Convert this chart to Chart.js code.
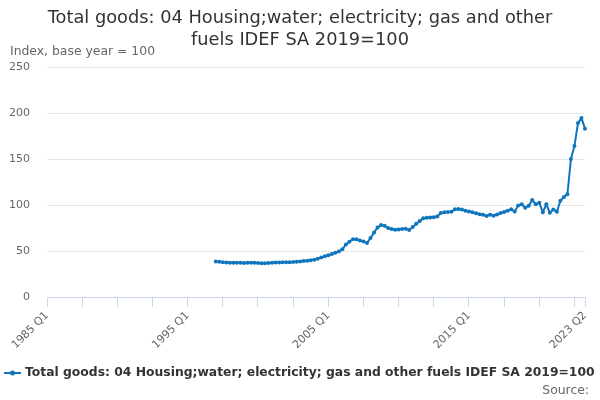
<!DOCTYPE html>
<html>
<head>
<meta charset="utf-8">
<script src="https://cdn.jsdelivr.net/npm/chart.js@4"></script>
<style>
html,body{margin:0;padding:0;background:#fff;}
#wrap{width:600px;height:400px;position:relative;}
</style>
</head>
<body>
<div id="wrap"><canvas id="c" width="600" height="400"></canvas></div>
<script>
// Quarter categories 1985 Q1 .. 2023 Q2
const firstYear = 1985;
const lastYear = 2023, lastQuarter = 2;
const categories = [];
for (let y = firstYear; y <= lastYear; y++) {
  for (let q = 1; q <= 4; q++) {
    if (y === lastYear && q > lastQuarter) break;
    categories.push(y + ' Q' + q);
  }
}
// Series starts at 1997 Q1
const seriesStart = '1997 Q1';
const seriesValues = [
  38.6, 38.3, 37.8, 37.4, 37.2, 37.1, 37.1, 37.1,   // 1997-1998
  37.0, 37.1, 37.2, 37.1, 36.9, 36.6, 36.7, 37.0,   // 1999-2000
  37.2, 37.4, 37.5, 37.7, 37.8, 37.9, 38.0, 38.3,   // 2001-2002
  38.6, 39.0, 39.4, 39.9, 40.6, 41.5, 42.8, 44.2,   // 2003-2004
  45.3, 46.7, 48.0, 49.5, 51.8, 57.2, 60.1, 62.7,   // 2005-2006
  62.7, 61.5, 60.2, 58.8, 64.0, 70.0, 75.5, 78.3,   // 2007-2008
  77.4, 75.0, 73.8, 73.0, 73.5, 73.8, 74.1, 72.8,   // 2009-2010
  76.2, 79.5, 82.5, 85.5, 86.2, 86.4, 86.6, 87.5,   // 2011-2012
  91.2, 92.0, 92.3, 92.6, 95.3, 95.7, 95.0, 93.8,   // 2013-2014
  93.0, 92.2, 91.0, 90.0, 89.5, 88.0, 89.3, 88.4,   // 2015-2016
  89.8, 91.2, 92.5, 93.8, 95.3, 92.8, 99.5, 100.8,  // 2017-2018
  97.1, 99.2, 105.4, 100.8, 102.5, 92.0, 100.8, 91.6, // 2019-2020
  95.0, 92.7, 104.7, 108.6, 111.6, 150.0, 164.0, 189.0, // 2021-2022
  194.5, 183.0                                      // 2023
];
const yTicks = [0, 50, 100, 150, 200, 250];
const xTickEvery = 10;
const xLabelled = ['1985 Q1', '1995 Q1', '2005 Q1', '2015 Q1', '2023 Q2'];

const titleLines = ['Total goods: 04 Housing;water; electricity; gas and other', 'fuels IDEF SA 2019=100'];
const seriesName = 'Total goods: 04 Housing;water; electricity; gas and other fuels IDEF SA 2019=100';
const yAxisTitle = 'Index, base year = 100';
const sourceText = 'Source:';

const startIdx = categories.indexOf(seriesStart);
const data = categories.map((c, i) => (i >= startIdx && i - startIdx < seriesValues.length) ? seriesValues[i - startIdx] : null);

const FONT = "'DejaVu Sans', sans-serif";
const BLUE = '#0f76be';

const extras = {
  id: 'extras',
  afterDraw(chart) {
    const ctx = chart.ctx;
    ctx.save();
    // axis title
    ctx.font = '12.4px ' + FONT;
    ctx.fillStyle = '#666666';
    ctx.textAlign = 'left';
    ctx.textBaseline = 'middle';
    ctx.fillText(yAxisTitle, 10, 52);
    // legend
    const ly = 373;
    ctx.strokeStyle = BLUE;
    ctx.lineWidth = 2;
    ctx.beginPath();
    ctx.moveTo(4, ly); ctx.lineTo(21, ly); ctx.stroke();
    ctx.fillStyle = BLUE;
    ctx.beginPath(); ctx.arc(12.5, ly, 2.5, 0, Math.PI * 2); ctx.fill();
    ctx.font = 'bold 12.35px ' + FONT;
    ctx.fillStyle = '#333333';
    ctx.fillText(seriesName, 25, ly);
    // source
    ctx.font = '12.4px ' + FONT;
    ctx.fillStyle = '#666666';
    ctx.textAlign = 'right';
    ctx.fillText(sourceText, 589, 391);
    ctx.restore();
  }
};

new Chart(document.getElementById('c'), {
  type: 'line',
  data: {
    labels: categories,
    datasets: [{
      label: seriesName,
      data: data,
      borderColor: BLUE,
      backgroundColor: BLUE,
      borderWidth: 2,
      pointRadius: 2,
      pointHoverRadius: 3,
      pointBorderWidth: 0,
      tension: 0,
      spanGaps: false
    }]
  },
  options: {
    responsive: false,
    animation: false,
    devicePixelRatio: 1,
    layout: { padding: { left: 0, right: 0, top: 0, bottom: 50 } },
    plugins: {
      legend: { display: false },
      tooltip: { enabled: false },
      title: {
        display: true,
        text: titleLines,
        color: '#333333',
        font: { family: FONT, size: 17.8, weight: 'normal', lineHeight: '22px' },
        padding: { top: 7, bottom: 16 }
      }
    },
    scales: {
      x: {
        type: 'category',
        offset: false,
        afterBuildTicks(scale) {
          const t = [];
          for (let i = 0; i < categories.length; i += xTickEvery) t.push({ value: i });
          t.push({ value: categories.length - 1 });
          scale.ticks = t;
        },
        afterFit(scale) { scale.height = 53; },
        ticks: {
          autoSkip: false,
          minRotation: 45,
          maxRotation: 45,
          padding: 2,
          color: '#666666',
          font: { family: FONT, size: 11 },
          callback(value) {
            const lab = categories[value];
            return xLabelled.includes(lab) ? lab : '';
          }
        },
        grid: {
          drawOnChartArea: false,
          drawTicks: true,
          tickLength: 10,
          color: '#ccd6eb',
          lineWidth: 1
        },
        border: { display: true, color: '#ccd6eb', width: 1 }
      },
      y: {
        min: 0,
        max: 250,
        afterBuildTicks(scale) { scale.ticks = yTicks.map(v => ({ value: v })); },
        afterFit(scale) { scale.width = 47; },
        ticks: {
          padding: 17,
          color: '#666666',
          font: { family: FONT, size: 11 }
        },
        grid: { color: '#e6e6e6', drawTicks: false, lineWidth: 1 },
        border: { display: false }
      },
      yRight: {
        position: 'right',
        display: true,
        min: 0,
        max: 250,
        afterFit(scale) { scale.width = 15; },
        ticks: { display: false },
        grid: { display: false, drawTicks: false },
        border: { display: false }
      }
    }
  },
  plugins: [extras]
});
</script>
</body>
</html>
